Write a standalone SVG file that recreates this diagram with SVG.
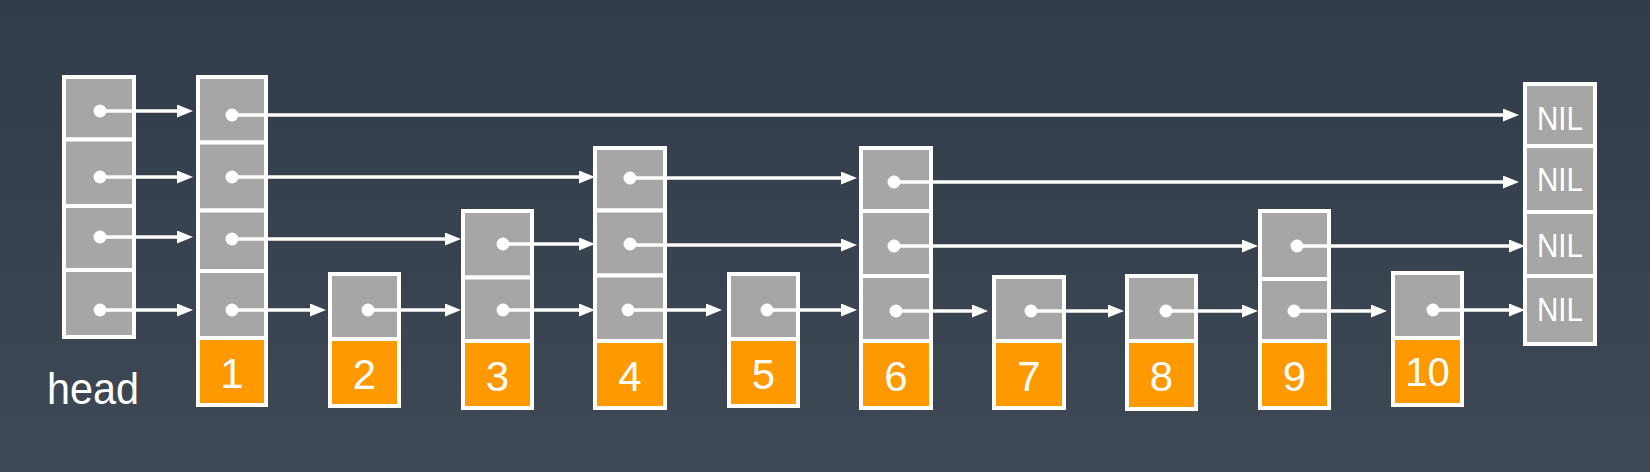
<svg xmlns="http://www.w3.org/2000/svg" width="1650" height="472" viewBox="0 0 1650 472">
  <defs>
    <linearGradient id="bg" x1="0" y1="0" x2="0" y2="1">
      <stop offset="0" stop-color="#323c48"/>
      <stop offset="1" stop-color="#3e4955"/>
    </linearGradient>
    <marker id="arr" viewBox="0 0 16 13" refX="8" refY="6.5" markerWidth="16" markerHeight="13" markerUnits="userSpaceOnUse" orient="auto">
      <path d="M0,0 L16,6.5 L0,13 z" fill="#ffffff"/>
    </marker>
    <style>
      .g { fill: #a6a6a6; stroke: #ffffff; stroke-width: 4; }
      .o { fill: #ff9900; stroke: #ffffff; stroke-width: 4; }
      .num { font-family: "Liberation Sans", Arial, sans-serif; font-size: 42px; fill: #ffffff; text-anchor: middle; }
      .nil { font-family: "Liberation Sans", Arial, sans-serif; font-size: 34px; fill: #ffffff; text-anchor: middle; }
      .lbl { font-family: "Liberation Sans", Arial, sans-serif; font-size: 45px; fill: #ffffff; }
      .ln { stroke: #ffffff; stroke-width: 3.6; fill: none; marker-end: url(#arr); }
      .dot { fill: #ffffff; }
    </style>
  </defs>
  <rect x="0" y="0" width="1650" height="472" fill="url(#bg)"/>

  <g id="head">
    <rect class="g" x="64" y="77" width="70" height="62.5"/>
    <rect class="g" x="64" y="139.5" width="70" height="66.5"/>
    <rect class="g" x="64" y="206" width="70" height="64"/>
    <rect class="g" x="64" y="270" width="70" height="67"/>
    <text class="lbl" x="47" y="404" textLength="92" lengthAdjust="spacingAndGlyphs">head</text>
  </g>

  <g id="node1">
    <rect class="g" x="198" y="77" width="68" height="65.5"/>
    <rect class="g" x="198" y="142.5" width="68" height="68"/>
    <rect class="g" x="198" y="210.5" width="68" height="60.5"/>
    <rect class="g" x="198" y="271" width="68" height="67"/>
    <rect class="o" x="198" y="338" width="68" height="67"/>
    <text class="num" x="232" y="387.5">1</text>
  </g>

  <g id="node2">
    <rect class="g" x="330" y="274" width="69" height="65"/>
    <rect class="o" x="330" y="339" width="69" height="67"/>
    <text class="num" x="364.5" y="388.5">2</text>
  </g>

  <g id="node3">
    <rect class="g" x="463" y="211" width="69" height="66.5"/>
    <rect class="g" x="463" y="277.5" width="69" height="63.5"/>
    <rect class="o" x="463" y="341" width="69" height="67"/>
    <text class="num" x="497.5" y="390.5">3</text>
  </g>

  <g id="node4">
    <rect class="g" x="595" y="148" width="70" height="62.5"/>
    <rect class="g" x="595" y="210.5" width="70" height="65"/>
    <rect class="g" x="595" y="275.5" width="70" height="65.5"/>
    <rect class="o" x="595" y="341" width="70" height="67"/>
    <text class="num" x="630" y="390.5">4</text>
  </g>

  <g id="node5">
    <rect class="g" x="729" y="274" width="69" height="65"/>
    <rect class="o" x="729" y="339" width="69" height="67"/>
    <text class="num" x="763.5" y="388.5">5</text>
  </g>

  <g id="node6">
    <rect class="g" x="861" y="148" width="70" height="63"/>
    <rect class="g" x="861" y="211" width="70" height="65"/>
    <rect class="g" x="861" y="276" width="70" height="65"/>
    <rect class="o" x="861" y="341" width="70" height="67"/>
    <text class="num" x="896" y="390.5">6</text>
  </g>

  <g id="node7">
    <rect class="g" x="994" y="277" width="70" height="64"/>
    <rect class="o" x="994" y="341" width="70" height="67"/>
    <text class="num" x="1029" y="390.5">7</text>
  </g>

  <g id="node8">
    <rect class="g" x="1127" y="276" width="69" height="65"/>
    <rect class="o" x="1127" y="341" width="69" height="68"/>
    <text class="num" x="1161.5" y="391">8</text>
  </g>

  <g id="node9">
    <rect class="g" x="1260" y="211" width="69" height="68"/>
    <rect class="g" x="1260" y="279" width="69" height="62"/>
    <rect class="o" x="1260" y="341" width="69" height="67"/>
    <text class="num" x="1294.5" y="390.5">9</text>
  </g>

  <g id="node10">
    <rect class="g" x="1393" y="273" width="69" height="65"/>
    <rect class="o" x="1393" y="338" width="69" height="67"/>
    <text class="num" x="1427.5" y="386" style="font-size:40px">10</text>
  </g>

  <g id="nil">
    <rect class="g" x="1525" y="84" width="70" height="62"/>
    <rect class="g" x="1525" y="146" width="70" height="66"/>
    <rect class="g" x="1525" y="212" width="70" height="64"/>
    <rect class="g" x="1525" y="276" width="70" height="68"/>
    <text class="nil" x="1560" y="129.5" textLength="46" lengthAdjust="spacingAndGlyphs">NIL</text>
    <text class="nil" x="1560" y="191" textLength="46" lengthAdjust="spacingAndGlyphs">NIL</text>
    <text class="nil" x="1560" y="256.5" textLength="46" lengthAdjust="spacingAndGlyphs">NIL</text>
    <text class="nil" x="1560" y="321" textLength="46" lengthAdjust="spacingAndGlyphs">NIL</text>
  </g>

  <g id="connectors">
    <!-- head -->
    <line class="ln" x1="100" y1="111" x2="185" y2="111"/>
    <line class="ln" x1="100" y1="177" x2="185" y2="177"/>
    <line class="ln" x1="100" y1="237" x2="185" y2="237"/>
    <line class="ln" x1="100" y1="310" x2="185" y2="310"/>
    <circle class="dot" cx="100" cy="111" r="6.5"/>
    <circle class="dot" cx="100" cy="177" r="6.5"/>
    <circle class="dot" cx="100" cy="237" r="6.5"/>
    <circle class="dot" cx="100" cy="310" r="6.5"/>
    <!-- node1 -->
    <line class="ln" x1="232" y1="115" x2="1511" y2="115"/>
    <line class="ln" x1="232" y1="177" x2="587" y2="177"/>
    <line class="ln" x1="232" y1="239" x2="453" y2="239"/>
    <line class="ln" x1="232" y1="310" x2="318" y2="310"/>
    <circle class="dot" cx="232" cy="115" r="6.5"/>
    <circle class="dot" cx="232" cy="177" r="6.5"/>
    <circle class="dot" cx="232" cy="239" r="6.5"/>
    <circle class="dot" cx="232" cy="310" r="6.5"/>
    <!-- node2 -->
    <line class="ln" x1="368" y1="310" x2="453" y2="310"/>
    <circle class="dot" cx="368" cy="310" r="6.5"/>
    <!-- node3 -->
    <line class="ln" x1="503" y1="244" x2="587" y2="244"/>
    <line class="ln" x1="503" y1="310" x2="587" y2="310"/>
    <circle class="dot" cx="503" cy="244" r="6.5"/>
    <circle class="dot" cx="503" cy="310" r="6.5"/>
    <!-- node4 -->
    <line class="ln" x1="630" y1="178" x2="849" y2="178"/>
    <line class="ln" x1="630" y1="245" x2="849" y2="245"/>
    <line class="ln" x1="628" y1="310" x2="714" y2="310"/>
    <circle class="dot" cx="630" cy="178" r="6.5"/>
    <circle class="dot" cx="630" cy="244" r="6.5"/>
    <circle class="dot" cx="628" cy="310" r="6.5"/>
    <!-- node5 -->
    <line class="ln" x1="767" y1="310" x2="849" y2="310"/>
    <circle class="dot" cx="767" cy="310" r="6.5"/>
    <!-- node6 -->
    <line class="ln" x1="894" y1="182" x2="1511" y2="182"/>
    <line class="ln" x1="894" y1="246" x2="1250" y2="246"/>
    <line class="ln" x1="896" y1="311" x2="980" y2="311"/>
    <circle class="dot" cx="894" cy="182" r="6.5"/>
    <circle class="dot" cx="894" cy="246" r="6.5"/>
    <circle class="dot" cx="896" cy="311" r="6.5"/>
    <!-- node7 -->
    <line class="ln" x1="1031" y1="311" x2="1116" y2="311"/>
    <circle class="dot" cx="1031" cy="311" r="6.5"/>
    <!-- node8 -->
    <line class="ln" x1="1166" y1="311" x2="1250" y2="311"/>
    <circle class="dot" cx="1166" cy="311" r="6.5"/>
    <!-- node9 -->
    <line class="ln" x1="1297" y1="246" x2="1517" y2="246"/>
    <line class="ln" x1="1294" y1="311" x2="1379" y2="311"/>
    <circle class="dot" cx="1297" cy="246" r="6.5"/>
    <circle class="dot" cx="1294" cy="311" r="6.5"/>
    <!-- node10 -->
    <line class="ln" x1="1433" y1="310" x2="1517" y2="310"/>
    <circle class="dot" cx="1433" cy="310" r="6.5"/>
  </g>
</svg>
